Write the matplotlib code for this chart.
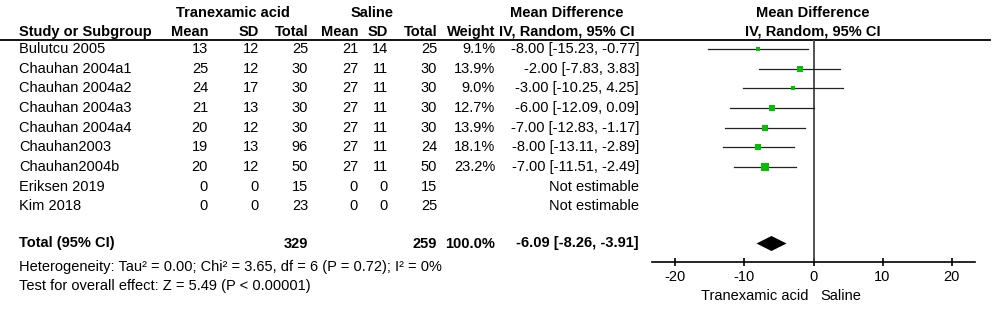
import numpy as np
import matplotlib as mpl
mpl.use("Agg")
import matplotlib.pyplot as plt

plt.rcParams["font.family"] = ["Liberation Sans", "DejaVu Sans"]
plt.rcParams["axes.unicode_minus"] = False

studies = ["Bulutcu 2005", "Chauhan 2004a1", "Chauhan 2004a2", "Chauhan 2004a3",
           "Chauhan 2004a4", "Chauhan2003", "Chauhan2004b", "Eriksen 2019", "Kim 2018"]
txa_mean = [13, 25, 24, 21, 20, 19, 20, 0, 0]
txa_sd = [12, 12, 17, 13, 12, 13, 12, 0, 0]
txa_n = [25, 30, 30, 30, 30, 96, 50, 15, 23]
sal_mean = [21, 27, 27, 27, 27, 27, 27, 0, 0]
sal_sd = [14, 11, 11, 11, 11, 11, 11, 0, 0]
sal_n = [25, 30, 30, 30, 30, 24, 50, 15, 25]
weight = [9.1, 13.9, 9.0, 12.7, 13.9, 18.1, 23.2, None, None]
md = [-8.00, -2.00, -3.00, -6.00, -7.00, -8.00, -7.00, None, None]
lo = [-15.23, -7.83, -10.25, -12.09, -12.83, -13.11, -11.51, None, None]
hi = [-0.77, 3.83, 4.25, 0.09, -1.17, -2.89, -2.49, None, None]

tot_txa, tot_sal = 329, 259
tot_md, tot_lo, tot_hi = -6.09, -8.26, -3.91
het_text = "Heterogeneity: Tau\u00b2 = 0.00; Chi\u00b2 = 3.65, df = 6 (P = 0.72); I\u00b2 = 0%"
eff_text = "Test for overall effect: Z = 5.49 (P < 0.00001)"
xticks = [-20, -10, 0, 10, 20]

W, H = 997, 309
Y0, DY = 49, 19.65          # pixel y of first study row, row spacing
TOT_ROW = 10
FS = 10.5

fig = plt.figure(figsize=(W / 100, H / 100), dpi=100)
ax = fig.add_axes([0, 0, 1, 1])
ax.set_xlim(0, W); ax.set_ylim(H, 0); ax.axis("off")


def ypix(r):
    return Y0 + DY * r


def txt(x, y, s, ha="right", bold=False):
    ax.text(x, y, s, ha=ha, va="center", fontsize=FS,
            fontweight="bold" if bold else "normal")


# column right edges (pixels)
cols = [208, 259, 308, 358, 388, 437, 495]
# headers
txt(233, 13, "Tranexamic acid", ha="center", bold=True)
txt(372, 13, "Saline", ha="center", bold=True)
txt(567, 13, "Mean Difference", ha="center", bold=True)
txt(813, 13, "Mean Difference", ha="center", bold=True)
txt(19, 32, "Study or Subgroup", ha="left", bold=True)
for x, h in zip(cols, ["Mean", "SD", "Total", "Mean", "SD", "Total", "Weight"]):
    txt(x, 32, h, bold=True)
txt(567, 32, "IV, Random, 95% CI", ha="center", bold=True)
txt(813, 32, "IV, Random, 95% CI", ha="center", bold=True)
ax.plot([0, 990], [40, 40], color="black", lw=1.3)

for i, name in enumerate(studies):
    y = ypix(i)
    txt(19, y, name, ha="left")
    vals = [txa_mean[i], txa_sd[i], txa_n[i], sal_mean[i], sal_sd[i], sal_n[i]]
    for x, v in zip(cols, vals):
        txt(x, y, str(v))
    if weight[i] is not None:
        txt(cols[6], y, f"{weight[i]:.1f}%")
        txt(639, y, f"{md[i]:.2f} [{lo[i]:.2f}, {hi[i]:.2f}]")
    else:
        txt(639, y, "Not estimable")

yt = ypix(TOT_ROW) - 2
txt(19, yt, "Total (95% CI)", ha="left", bold=True)
txt(cols[2], yt, str(tot_txa), bold=True)
txt(cols[5], yt, str(tot_sal), bold=True)
txt(cols[6], yt, "100.0%", bold=True)
txt(639, yt, f"{tot_md:.2f} [{tot_lo:.2f}, {tot_hi:.2f}]", bold=True)
txt(19, 267, het_text, ha="left")
txt(19, 286, eff_text, ha="left")
txt(808, 296, "Tranexamic acid", ha="right")
txt(820, 296, "Saline", ha="left")

# forest panel
x_left, x_right, y_top, y_axis = 652, 975, 40, 262
axf = fig.add_axes([x_left / W, (H - y_axis) / H, (x_right - x_left) / W,
                    (y_axis - y_top) / H])
axf.set_xlim(-23.4, 23.4)
axf.set_ylim((y_axis - Y0) / DY, (y_top - Y0) / DY)
axf.patch.set_alpha(0)
for s in ("top", "left", "right"):
    axf.spines[s].set_visible(False)
axf.spines["bottom"].set_linewidth(1.2)
axf.set_yticks([])
axf.set_xticks(xticks)
axf.tick_params(axis="x", direction="inout", length=6, width=1.2, pad=3,
                labelsize=FS)
axf.axvline(0, color="#444444", lw=1.3)

for i in range(len(studies)):
    if md[i] is None:
        continue
    axf.plot([lo[i], hi[i]], [i, i], color="#222222", lw=0.9)
    side = 1.52 * np.sqrt(weight[i]) * 0.72
    axf.plot(md[i], i, marker="s", ms=side, color="#00c000", mec="#00c000", mew=0)

rt = (yt - Y0) / DY
hh = 7.5 / DY
axf.fill([tot_lo, tot_md, tot_hi, tot_md], [rt, rt - hh, rt, rt + hh],
         color="black", lw=0)

fig.savefig("out.png", dpi=100)
